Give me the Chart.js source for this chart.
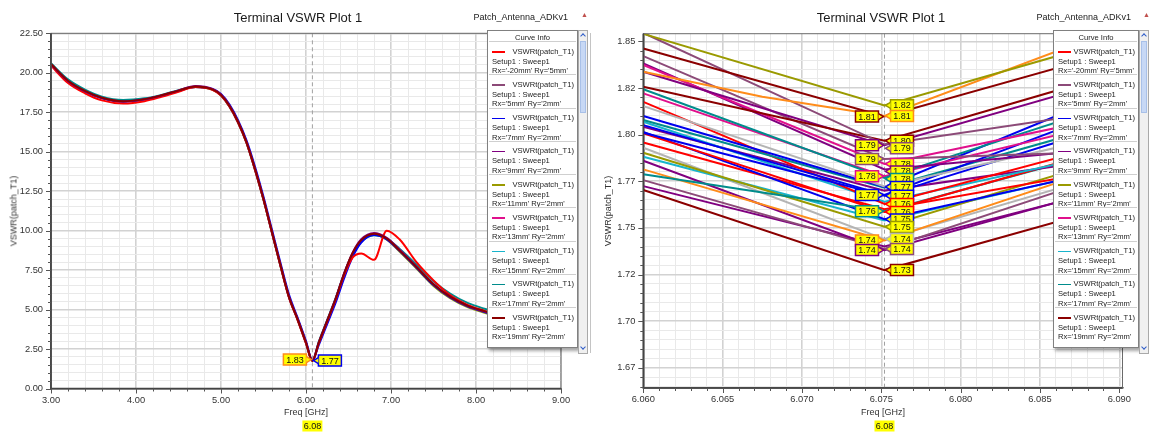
<!DOCTYPE html>
<html>
<head>
<meta charset="utf-8">
<title>Terminal VSWR Plot 1</title>
<script src="https://cdn.jsdelivr.net/npm/chart.js@4.4.1/dist/chart.umd.min.js"></script>
<style>
  body { margin:0; width:1150px; height:433px; overflow:hidden; background:#fff; position:relative;
         font-family:"Liberation Sans", Arial, sans-serif; color:#222; }
  canvas { position:absolute; top:0; }
  #wide { left:0; }
  #zoom { left:590px; }
  .t { position:absolute; white-space:nowrap; line-height:1; z-index:2; }
  .title { font-size:13px; top:11px; transform:translateX(-50%); color:#1a1a1a; }
  .proj { font-size:9px; top:13px; color:#222; }
  .tri { font-size:7px; top:11px; color:#c0504d; }
  .ytitle { font-size:9px; top:211px; transform:translate(-50%,-50%) rotate(-90deg); color:#333; }
  .xtitle { font-size:9px; top:408px; transform:translateX(-50%); color:#333; }
  .sep { position:absolute; left:590px; top:33px; width:1px; height:320px; background:#c4c4c4; z-index:2; }
  .legend { position:absolute; top:30px; height:318px; background:#fff; border:1px solid #808080;
            box-shadow:2px 3px 3px rgba(0,0,0,.35); box-sizing:border-box; font-size:7.6px; color:#222;
            overflow:hidden; z-index:3; }
  .legend .head { position:absolute; left:0; right:0; top:3px; text-align:center; line-height:1; }
  .entry { position:absolute; left:1px; right:1px; height:33px; border-top:1px solid #cfcfcf; }
  .entry div { position:absolute; white-space:nowrap; line-height:1; }
  .entry .sw { left:3px; top:9px; width:13px; height:1.6px; }
  .entry .nm { right:2px; top:5.5px; }
  .entry .s1 { left:3px; top:15.5px; }
  .entry .s2 { left:3px; top:25px; }
  .sb { position:absolute; top:30px; width:10px; height:324px; background:#f0f0f0; border:1px solid #a9a9a9;
        box-sizing:border-box; z-index:3; }
  .sb .thumb { position:absolute; left:1px; right:1px; top:10px; height:70px; background:#c7d8f5; border:1px solid #a8c0e8; }
  .sb .ar { position:absolute; left:2px; width:3px; height:3px; border-left:1.5px solid #2e5cc8; border-top:1.5px solid #2e5cc8; }
  .sb .up { top:3px; transform:rotate(45deg); }
  .sb .dn { bottom:4px; transform:rotate(225deg); }
</style>
</head>
<body>
<canvas id="wide" width="590" height="433"></canvas>
<canvas id="zoom" width="560" height="433"></canvas>

<div class="t title" style="left:298px">Terminal VSWR Plot 1</div>
<div class="t proj" style="right:582px">Patch_Antenna_ADKv1</div>
<div class="t tri" style="left:581px">&#9650;</div>
<div class="t ytitle" style="left:14px">VSWR(patch_T1)</div>
<div class="t xtitle" style="left:306px">Freq [GHz]</div>

<div class="t title" style="left:881px">Terminal VSWR Plot 1</div>
<div class="t proj" style="right:19px">Patch_Antenna_ADKv1</div>
<div class="t tri" style="left:1143px">&#9650;</div>
<div class="t ytitle" style="left:608px">VSWR(patch_T1)</div>
<div class="t xtitle" style="left:883px">Freq [GHz]</div>

<div class="sep"></div>

<script>
// trace colours
var RED = '#ff0000', MAUVE = '#8c4a78', BLUE = '#0000ee', PURPLE = '#800080', OLIVE = '#9a9a00',
    MAGENTA = '#e0108c', CYAN = '#18b4cc', TEAL = '#008c8c', DKRED = '#8b0000', ORANGE = '#ff8c1a', GREY = '#b4b4b4';

// ---------- left plot: 3 - 9 GHz sweep ----------
var wideFreq = [3.0, 3.2, 3.4, 3.6, 3.85, 4.1, 4.3, 4.5, 4.7, 4.9, 5.0, 5.1, 5.2, 5.3, 5.4, 5.5, 5.6, 5.7, 5.8, 5.9,
                6.0, 6.075, 6.15, 6.25, 6.35, 6.45, 6.55, 6.65, 6.8, 6.95, 7.1, 7.3, 7.5, 7.7, 7.9, 8.1, 8.4, 8.7, 9.0];
var wideDkRed = [20.55, 19.5, 18.85, 18.42, 18.2, 18.33, 18.57, 18.87, 19.13, 18.95, 18.6, 17.9, 16.9, 15.6, 13.9, 12.0, 9.9, 7.8, 5.8, 4.4,
                 2.9, 1.73, 2.9, 4.3, 5.7, 7.3, 8.6, 9.4, 9.8, 9.5, 8.75, 7.7, 6.6, 5.8, 5.25, 4.9, 4.45, 4.1, 3.85];
var wideRed = [20.45, 19.35, 18.7, 18.25, 18.05, 18.2, 18.48, 18.8, 19.1, 18.92, 18.55, 17.85, 16.85, 15.55, 13.85, 11.95, 9.85, 7.75, 5.75, 4.35,
               2.85, 1.76, 2.85, 4.25, 5.65, 7.2, 8.3, 8.55, 8.15, 10.0, 9.45, 8.0, 6.85, 5.9, 5.3, 4.92, 4.45, 4.1, 3.85];
var wideBlue = [20.5, 19.45, 18.8, 18.38, 18.17, 18.3, 18.55, 18.85, 19.1, 18.97, 18.65, 17.98, 17.0, 15.72, 14.05, 12.15, 10.05, 7.95, 5.95, 4.5,
                3.0, 1.77, 2.75, 4.1, 5.45, 7.0, 8.35, 9.25, 9.72, 9.45, 8.72, 7.65, 6.55, 5.75, 5.2, 4.85, 4.4, 4.05, 3.8];
var wideTeal = [20.6, 19.58, 18.93, 18.48, 18.27, 18.38, 18.6, 18.9, 19.12, 18.93, 18.55, 17.85, 16.85, 15.55, 13.85, 11.95, 9.85, 7.75, 5.78, 4.38,
                2.88, 1.77, 2.95, 4.35, 5.75, 7.3, 8.55, 9.3, 9.7, 9.5, 8.85, 7.85, 6.8, 6.0, 5.42, 5.05, 4.6, 4.25, 3.98];
var widePurple = [20.52, 19.47, 18.82, 18.4, 18.18, 18.32, 18.56, 18.88, 19.16, 18.98, 18.62, 17.92, 16.92, 15.62, 13.92, 12.02, 9.92, 7.82, 5.82, 4.42,
                  2.92, 1.79, 2.92, 4.32, 5.72, 7.32, 8.62, 9.45, 9.85, 9.55, 8.8, 7.72, 6.62, 5.8, 5.23, 4.87, 4.42, 4.08, 3.83];
var wideOlive = [20.53, 19.48, 18.84, 18.41, 18.2, 18.32, 18.55, 18.86, 19.1, 18.93, 18.58, 17.88, 16.88, 15.58, 13.88, 11.98, 9.88, 7.78, 5.8, 4.4,
                 2.9, 1.75, 2.88, 4.28, 5.68, 7.25, 8.55, 9.35, 9.75, 9.42, 8.68, 7.6, 6.5, 5.7, 5.15, 4.8, 4.35, 4.0, 3.75];
var wideSeries = [wideDkRed, widePurple, wideRed, wideBlue, wideTeal, wideOlive];
var wideColors = [DKRED, PURPLE, RED, BLUE, TEAL, OLIVE];

// marker m1 and its readouts
var markFreq = 6.0752;
var wideTagValues = [1.83, 1.77];
var wideTagColors = [ORANGE, BLUE];
var wideTagSides = ['L', 'R'];

// ---------- right plot: zoom 6.060 - 6.090 GHz ----------
var zoomFreq = [6.060, 6.0675, 6.0752, 6.0905];
var zoomColors = [OLIVE, ORANGE, DKRED, MAUVE, DKRED, PURPLE, MAUVE, MAGENTA, PURPLE, TEAL, MAGENTA, GREY, BLUE, BLUE, BLUE, TEAL,
                  RED, CYAN, PURPLE, RED, TEAL, BLUE, RED, OLIVE, CYAN, ORANGE, GREY, PURPLE, MAUVE, PURPLE, DKRED];
var zoomAt6060 = [1.8540, 1.8337, 1.8462, 1.8545, 1.8257, 1.8337, 1.8421, 1.8373, 1.8382, 1.8243, 1.8221, 1.8153, 1.8100, 1.8051, 1.8010, 1.8078,
                  1.8176, 1.8069, 1.8042, 1.8007, 1.7788, 1.8015, 1.7958, 1.7903, 1.7881, 1.7814, 1.7930, 1.7860, 1.7756, 1.7724, 1.7703];
var zoomAt6067 = [null, 1.8203, null, null, null, null, null, null, null, null, null, null, null, null, null, null,
                  null, null, null, null, null, null, null, null, null, null, null, null, null, null, null];
var zoomAtMark = [1.8157, 1.8100, 1.8097, 1.7948, 1.7967, 1.7943, 1.7870, 1.7843, 1.7813, 1.7768, 1.7777, 1.7722, 1.7720, 1.7677, 1.7672, 1.7715,
                  1.7628, 1.7640, 1.7700, 1.7586, 1.7590, 1.7547, 1.7600, 1.7506, 1.7540, 1.7433, 1.7440, 1.7381, 1.7387, 1.7400, 1.7274];
var zoomAt6090 = [1.8529, 1.8589, 1.8463, 1.8141, 1.8347, 1.8317, 1.7912, 1.8116, 1.7936, 1.8189, 1.8088, 1.8016, 1.8257, 1.8166, 1.8077, 1.8083,
                  1.7975, 1.7924, 1.7885, 1.7953, 1.7946, 1.7836, 1.7831, 1.7898, 1.7839, 1.7868, 1.7820, 1.7742, 1.7818, 1.7733, 1.7639];
var zoomTagSide = ['R', 'R', 'L', 'R', 'R', 'L', 'L', 'R', 'R', 'R', 'L', '', 'R', 'L', 'R', '',
                   'R', '', '', 'R', 'L', 'R', '', 'R', '', 'L', 'R', 'L', 'R', '', 'R'];
var zoomYTicks = [1.675, 1.700, 1.725, 1.750, 1.775, 1.800, 1.825, 1.850];
var zoomYLabels = ['1.67', '1.70', '1.72', '1.75', '1.77', '1.80', '1.82', '1.85'];

// legend (Curve Info) rows visible in the window
var legendColors = [RED, MAUVE, BLUE, PURPLE, OLIVE, MAGENTA, CYAN, TEAL, DKRED];
var legendVars = ["Rx='-20mm' Ry='5mm'", "Rx='5mm' Ry='2mm'", "Rx='7mm' Ry='2mm'", "Rx='9mm' Ry='2mm'", "Rx='11mm' Ry='2mm'",
                  "Rx='13mm' Ry='2mm'", "Rx='15mm' Ry='2mm'", "Rx='17mm' Ry='2mm'", "Rx='19mm' Ry='2mm'"];

Chart.defaults.font.family = "'Liberation Sans', Arial, sans-serif";
Chart.defaults.color = '#333';

function onStep(v, step) { var q = v / step; return Math.abs(q - Math.round(q)) < 1e-6; }

function axis(min, max, minor, major, fmt, size, isX) {
  return {
    type: 'linear', min: min, max: max,
    afterBuildTicks: function (s) {
      var t = [];
      for (var k = Math.ceil(min / minor - 1e-6); k * minor <= max + 1e-9; k++) t.push({ value: k * minor });
      s.ticks = t;
    },
    afterFit: function (s) { if (isX) s.height = size; else s.width = size; },
    ticks: {
      autoSkip: false, maxRotation: 0, padding: isX ? 6 : 8, font: { size: 9.3 }, color: '#333',
      callback: function (v) { return onStep(v, major) ? fmt(v) : ''; }
    },
    grid: {
      drawTicks: false,
      color: function (c) { return c.tick && onStep(c.tick.value, major) ? '#d2d2d2' : '#e9e9e9'; },
      lineWidth: function (c) { return c.tick && onStep(c.tick.value, major) ? 1.6 : 1; }
    },
    border: { color: '#444', width: 1.5 }
  };
}

function drawTag(ctx, x, y, text, color, side) {
  var w = 23, h = 11, p = 6;
  var bx = side === 'L' ? x - p - w : x + p;
  ctx.fillStyle = '#ffff00';
  ctx.strokeStyle = color;
  ctx.lineWidth = 1.5;
  ctx.beginPath();
  ctx.rect(bx, y - h / 2, w, h);
  ctx.fill();
  ctx.stroke();
  ctx.beginPath();
  if (side === 'L') { ctx.moveTo(bx + w, y - 3); ctx.lineTo(x - 1, y); ctx.lineTo(bx + w, y + 3); }
  else { ctx.moveTo(bx, y - 3); ctx.lineTo(x + 1, y); ctx.lineTo(bx, y + 3); }
  ctx.fill();
  ctx.stroke();
  ctx.fillStyle = '#111';
  ctx.font = "9px 'Liberation Sans', Arial, sans-serif";
  ctx.textAlign = 'center';
  ctx.textBaseline = 'middle';
  ctx.fillText(text, bx + w / 2, y + 0.5);
}

function decor(tags) {
  return {
    id: 'decor',
    beforeDatasetsDraw: function (chart) {
      var a = chart.chartArea, ctx = chart.ctx, x = chart.scales.x.getPixelForValue(markFreq);
      ctx.save();
      ctx.strokeStyle = '#a0a0a0';
      ctx.lineWidth = 1;
      ctx.setLineDash([4, 3]);
      ctx.beginPath();
      ctx.moveTo(x, a.top);
      ctx.lineTo(x, a.bottom);
      ctx.stroke();
      ctx.restore();
    },
    afterDraw: function (chart) {
      var ctx = chart.ctx, a = chart.chartArea, xs = chart.scales.x, ys = chart.scales.y;
      ctx.save();
      ctx.strokeStyle = '#6a6a6a';
      ctx.lineWidth = 1;
      ctx.strokeRect(a.left, a.top, a.right - a.left, a.bottom - a.top);
      ctx.strokeStyle = '#444';
      ctx.lineWidth = 1.5;
      ctx.beginPath();
      ctx.moveTo(a.left, a.top);
      ctx.lineTo(a.left, a.bottom);
      ctx.lineTo(a.right, a.bottom);
      ctx.stroke();
      // tick marks outside the axes
      ctx.lineWidth = 1;
      ctx.strokeStyle = '#555';
      ctx.beginPath();
      ys.ticks.forEach(function (t) {
        var y = Math.round(ys.getPixelForValue(t.value)) + 0.5;
        ctx.moveTo(a.left - (t.label ? 5 : 3), y);
        ctx.lineTo(a.left, y);
      });
      xs.ticks.forEach(function (t) {
        var x = Math.round(xs.getPixelForValue(t.value)) + 0.5;
        ctx.moveTo(x, a.bottom);
        ctx.lineTo(x, a.bottom + (t.label ? 5 : 3));
      });
      ctx.stroke();
      // marker readouts
      var mx = xs.getPixelForValue(markFreq);
      ['L', 'R'].forEach(function (side) {
        var list = tags.filter(function (t) { return t.side === side; })
          .map(function (t) { return { t: t, y: ys.getPixelForValue(t.value) }; })
          .sort(function (p, q) { return p.y - q.y; });
        var prev = -99;
        list.forEach(function (p) {
          if (p.y < prev + 7.5) p.y = prev + 7.5;
          prev = p.y;
          drawTag(ctx, mx, p.y, p.t.value.toFixed(2), p.t.color, side);
        });
      });
      // marker frequency box under the axis
      ctx.fillStyle = '#ffff00';
      ctx.fillRect(mx - 10, 420.5, 20, 11);
      ctx.fillStyle = '#111';
      ctx.font = "9px 'Liberation Sans', Arial, sans-serif";
      ctx.textAlign = 'center';
      ctx.textBaseline = 'middle';
      ctx.fillText(markFreq.toFixed(2), mx, 426.5);
      ctx.restore();
    }
  };
}

// left chart
var wideTags = wideTagValues.map(function (v, i) { return { value: v, color: wideTagColors[i], side: wideTagSides[i] }; });
new Chart(document.getElementById('wide').getContext('2d'), {
  type: 'line',
  data: {
    datasets: wideSeries.map(function (vals, i) {
      return {
        data: wideFreq.map(function (f, j) { return { x: f, y: vals[j] }; }),
        borderColor: wideColors[i], borderWidth: 2, pointRadius: 0,
        cubicInterpolationMode: 'monotone', fill: false
      };
    })
  },
  options: {
    responsive: false, animation: false, events: [],
    layout: { padding: { top: 33.3, right: 29, left: 0, bottom: 0 } },
    plugins: { legend: { display: false }, tooltip: { enabled: false } },
    scales: {
      x: axis(3, 9, 0.2, 1, function (v) { return v.toFixed(2); }, 44.5, true),
      y: axis(0, 22.5, 0.5, 2.5, function (v) { return v.toFixed(2); }, 51, false)
    }
  },
  plugins: [decor(wideTags)]
});

// right chart
var zoomTags = [];
zoomTagSide.forEach(function (s, i) { if (s) zoomTags.push({ value: zoomAtMark[i], color: zoomColors[i], side: s }); });
var zoomCols = [zoomAt6060, zoomAt6067, zoomAtMark, zoomAt6090];
new Chart(document.getElementById('zoom').getContext('2d'), {
  type: 'line',
  data: {
    datasets: zoomColors.map(function (c, i) {
      return {
        data: zoomFreq.map(function (f, j) { return { x: f, y: zoomCols[j][i] }; }),
        borderColor: c, borderWidth: 2, pointRadius: 0, spanGaps: true, tension: 0, fill: false
      };
    })
  },
  options: {
    responsive: false, animation: false, events: [],
    layout: { padding: { top: 33.7, right: 27.5, left: 0, bottom: 0 } },
    plugins: { legend: { display: false }, tooltip: { enabled: false } },
    scales: {
      x: axis(6.06, 6.0902, 0.001, 0.005, function (v) { return v.toFixed(3); }, 45, true),
      y: axis(1.6642, 1.8541, 0.005, 0.025, function (v) {
        for (var i = 0; i < zoomYTicks.length; i++) if (Math.abs(zoomYTicks[i] - v) < 1e-6) return zoomYLabels[i];
        return '';
      }, 53.3, false)
    }
  },
  plugins: [decor(zoomTags)]
});

// Curve Info boxes
function legendBox(left, width) {
  var box = document.createElement('div');
  box.className = 'legend';
  box.style.left = left + 'px';
  box.style.width = width + 'px';
  var head = document.createElement('div');
  head.className = 'head';
  head.textContent = 'Curve Info';
  box.appendChild(head);
  legendColors.forEach(function (c, i) {
    var e = document.createElement('div');
    e.className = 'entry';
    e.style.top = (10 + i * 33.25) + 'px';
    e.innerHTML = '<div class="sw" style="background:' + c + '"></div><div class="nm">VSWRt(patch_T1)</div>' +
                  '<div class="s1">Setup1 : Sweep1</div><div class="s2"></div>';
    e.querySelector('.s2').textContent = legendVars[i];
    box.appendChild(e);
  });
  document.body.appendChild(box);
  var sb = document.createElement('div');
  sb.className = 'sb';
  sb.style.left = (left + width) + 'px';
  sb.innerHTML = '<div class="thumb"></div><div class="ar up"></div><div class="ar dn"></div>';
  document.body.appendChild(sb);
}
legendBox(487, 91);
legendBox(1053, 86);
</script>
</body>
</html>
